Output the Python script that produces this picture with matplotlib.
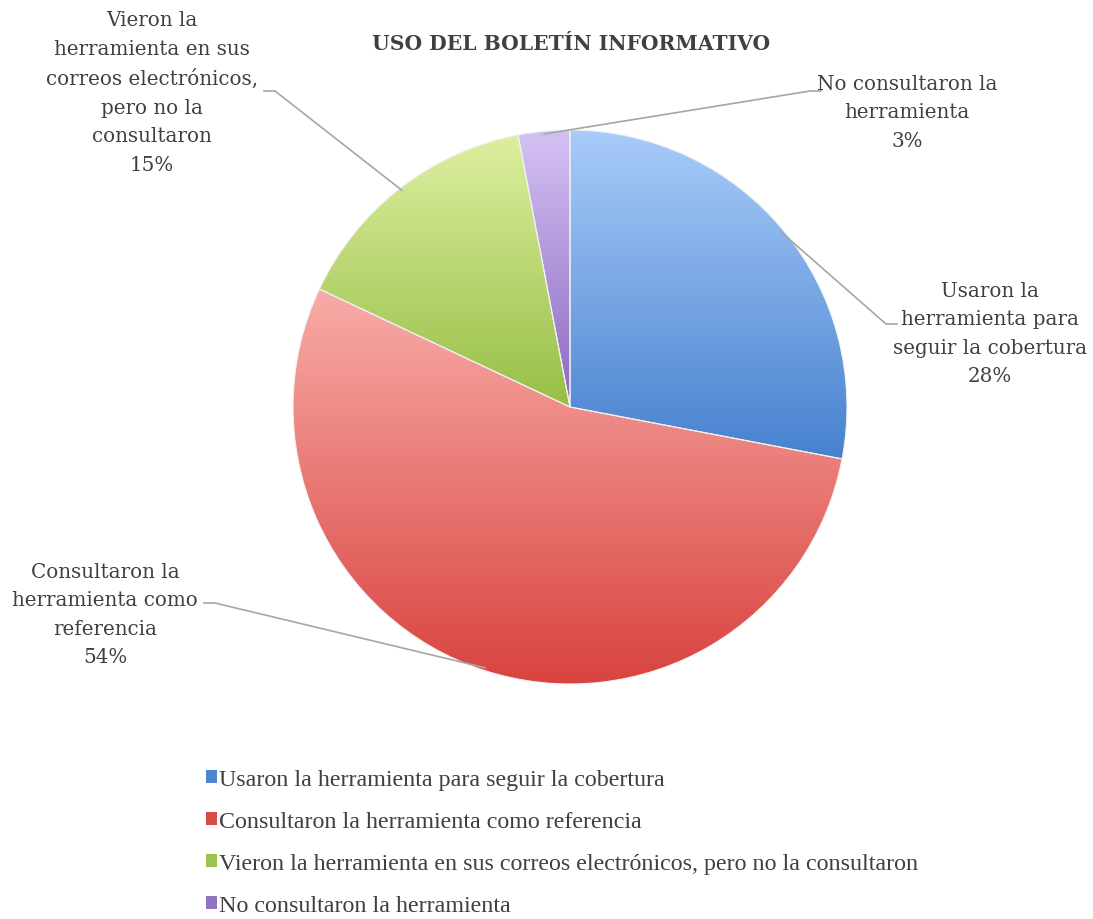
import numpy as np
import matplotlib
matplotlib.use("Agg")
import matplotlib.pyplot as plt
from matplotlib.colors import LinearSegmentedColormap
from matplotlib.patches import Patch

# Datos
categorias = [
    "Usaron la herramienta para seguir la cobertura",
    "Consultaron la herramienta como referencia",
    "Vieron la herramienta en sus correos electrónicos, pero no la consultaron",
    "No consultaron la herramienta",
]
valores = [28, 54, 15, 3]
etiquetas = [
    "Usaron la\nherramienta para\nseguir la cobertura\n28%",
    "Consultaron la\nherramienta como\nreferencia\n54%",
    "Vieron la\nherramienta en sus\ncorreos electrónicos,\npero no la\nconsultaron\n15%",
    "No consultaron la\nherramienta\n3%",
]

# colores (claro arriba, oscuro abajo) por porción
C_TOP = ["#a8ccf9", "#f8aca8", "#deefa0", "#d4c1f3"]
C_BOT = ["#4781cf", "#d9433f", "#96bf46", "#8c69bf"]
C_LEG = ["#4f86d0", "#d84a45", "#9cc34e", "#9372c2"]
C_TEXT = "#404040"
C_LINE = "#a6a6a6"

W, H = 1093, 920
CX, CY, R = 570, 408, 277

fig = plt.figure(figsize=(W / 100, H / 100), dpi=100, facecolor="white")
ax = fig.add_axes([(CX - R) / W, (H - CY - R) / H, 2 * R / W, 2 * R / H])
ax.set_xlim(-1, 1)
ax.set_ylim(-1, 1)
ax.axis("off")

wedges, _ = ax.pie(valores, startangle=90, counterclock=False, radius=1,
                   center=(0, 0),
                   wedgeprops={"linewidth": 0.8, "edgecolor": "#f2f2f2"})

grad = np.linspace(0, 1, 256).reshape(-1, 1)
for w, ct, cb in zip(wedges, C_TOP, C_BOT):
    w.set_facecolor("none")
    bb = w.get_path().get_extents()
    cmap = LinearSegmentedColormap.from_list("g", [cb, ct])
    im = ax.imshow(grad, cmap=cmap, aspect="auto", origin="lower",
                   extent=[bb.x0, bb.x1, bb.y0, bb.y1], zorder=0.5)
    im.set_clip_path(w)
ax.set_xlim(-1, 1)
ax.set_ylim(-1, 1)

# Etiquetas con líneas guía (posición del texto en píxeles)
pos_texto = [(990, 334), (105, 615), (152, 93), (907, 113)]
codo = [(886, 325), (215, 604), (275, 92), (810, 92)]
alineacion = ["left", "right", "right", "left"]

total = sum(valores)
acum = 0
for i, v in enumerate(valores):
    mid = 90 - (acum + v / 2) / total * 360
    acum += v
    ang = np.deg2rad(mid)
    ex, ey = np.cos(ang), np.sin(ang)
    kx = (codo[i][0] - CX) / R
    ky = (CY - codo[i][1]) / R
    fin = kx + (0.04 if alineacion[i] == "left" else -0.04)
    ax.plot([ex * 0.99, kx, fin], [ey * 0.99, ky, ky], color=C_LINE,
            linewidth=1.2, clip_on=False, zorder=3)
    tx = (pos_texto[i][0] - CX) / R
    ty = (CY - pos_texto[i][1]) / R
    ax.text(tx, ty, etiquetas[i], ha="center", va="center", color=C_TEXT,
            fontsize=14.3, family="DejaVu Serif", linespacing=1.63,
            clip_on=False)

fig.text(571 / W, 1 - 44 / H, "USO DEL BOLETÍN INFORMATIVO", ha="center",
         va="center", color=C_TEXT, fontsize=14.6, fontweight="bold",
         family="DejaVu Serif")

handles = [Patch(facecolor=c, edgecolor="none") for c in C_LEG]
fig.legend(handles, categorias, loc="upper left",
           bbox_to_anchor=(194 / W, 1 - 758 / H), frameon=False,
           prop={"family": "Liberation Serif", "size": 17.3},
           labelcolor=C_TEXT, handlelength=0.45, handleheight=0.45,
           handletextpad=0.1, labelspacing=0.88, borderpad=0)

fig.savefig("out.png", dpi=100, facecolor="white")
